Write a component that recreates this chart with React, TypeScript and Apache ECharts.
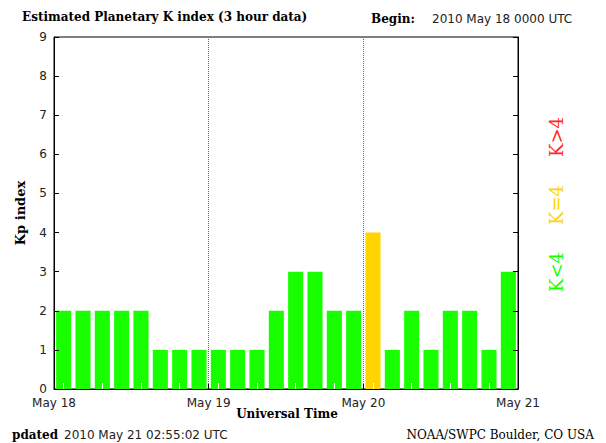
import React, { useEffect, useRef } from "react";
import * as echarts from "echarts";

const kpValues = [2, 2, 2, 2, 2, 1, 1, 1, 1, 1, 1, 2, 3, 3, 2, 2, 4, 1, 2, 1, 2, 2, 1, 3];
const slotLabels = kpValues.map((_, i) => `${i * 3}h`);
const dayLabels = ["May 18", "May 19", "May 20", "May 21"];
const yTicks = [0, 1, 2, 3, 4, 5, 6, 7, 8, 9];
const legendItems = [
  { text: "K>4", color: "#ff2a1a" },
  { text: "K=4", color: "#ffd400" },
  { text: "K<4", color: "#18ff00" },
];

const GREEN = "#18ff00";
const YELLOW = "#ffd400";
const RED = "#ff2a1a";
const SANS = "'DejaVu Sans', sans-serif";
const SERIF = "'DejaVu Serif', serif";

export default function App() {
  const ref = useRef<HTMLDivElement>(null);
  useEffect(() => {
    if (!ref.current) return;
    const chart = echarts.init(ref.current, null, { renderer: "svg" });
    const barData = kpValues.map((v) => ({
      value: v,
      itemStyle: { color: v < 4 ? GREEN : v === 4 ? YELLOW : RED },
    }));
    chart.setOption({
      animation: false,
      backgroundColor: "#ffffff",
      grid: {
        left: 54,
        right: 88,
        top: 37,
        bottom: 54,
        show: true,
        borderColor: "#000",
        borderWidth: 1,
      },
      xAxis: [
        {
          type: "value",
          min: 0,
          max: 72,
          interval: 24,
          position: "bottom",
          axisLine: { show: true, lineStyle: { color: "#000", width: 1 } },
          axisTick: { show: true, inside: true, length: 5, lineStyle: { color: "#000" } },
          axisLabel: {
            color: "#222",
            fontFamily: SANS,
            fontSize: 12,
            margin: 8,
            formatter: (v: number) => dayLabels[Math.round(v / 24)] ?? "",
          },
          splitLine: { show: true, lineStyle: { color: "#666", type: "dotted", width: 1 } },
          z: 5,
        },
        {
          type: "category",
          data: slotLabels,
          position: "bottom",
          boundaryGap: true,
          axisLine: { show: false },
          axisLabel: { show: false },
          axisTick: {
            show: true,
            inside: true,
            alignWithLabel: true,
            length: 6,
            lineStyle: { color: "#ffffff", width: 1 },
          },
          splitLine: { show: false },
          z: 6,
        },
      ],
      yAxis: [
        {
          type: "value",
          min: 0,
          max: 9,
          interval: 1,
          axisLine: { show: true, lineStyle: { color: "#000" } },
          axisTick: { show: true, inside: true, length: 5, lineStyle: { color: "#000" } },
          axisLabel: {
            color: "#222",
            fontFamily: SANS,
            fontSize: 12,
            margin: 7,
            formatter: (v: number) => (yTicks.includes(v) ? String(v) : ""),
          },
          splitLine: { show: false },
          z: 5,
        },
        {
          type: "value",
          min: 0,
          max: 9,
          interval: 1,
          position: "right",
          axisLine: { show: true, lineStyle: { color: "#000" } },
          axisTick: { show: true, inside: true, length: 5, lineStyle: { color: "#000" } },
          axisLabel: { show: false },
          splitLine: { show: false },
          z: 5,
        },
      ],
      series: [
        {
          type: "bar",
          xAxisIndex: 1,
          yAxisIndex: 0,
          data: barData,
          barWidth: "78%",
          itemStyle: { borderColor: "#8dff80", borderWidth: 0 },
        },
      ],
      graphic: [
        {
          type: "text",
          left: 22,
          top: 11,
          style: {
            text: "Estimated Planetary K index (3 hour data)",
            font: `bold 12px ${SERIF}`,
            fill: "#000",
          },
        },
        {
          type: "text",
          left: 371,
          top: 13,
          style: { text: "Begin:", font: `bold 12px ${SERIF}`, fill: "#000" },
        },
        {
          type: "text",
          left: 432,
          top: 13,
          style: { text: "2010 May 18 0000 UTC", font: `12px ${SANS}`, fill: "#222" },
        },
        {
          type: "text",
          x: 20,
          y: 213,
          rotation: Math.PI / 2,
          style: {
            text: "Kp index",
            font: `bold 13px ${SERIF}`,
            fill: "#000",
            align: "center",
            verticalAlign: "middle",
          },
        },
        {
          type: "text",
          x: 287,
          y: 414,
          style: {
            text: "Universal Time",
            font: `bold 12px ${SERIF}`,
            fill: "#000",
            align: "center",
            verticalAlign: "middle",
          },
        },
        {
          type: "text",
          left: 12,
          top: 429,
          style: { text: "pdated", font: `bold 12px ${SERIF}`, fill: "#000" },
        },
        {
          type: "text",
          left: 64,
          top: 429,
          style: { text: "2010 May 21 02:55:02 UTC", font: `12px ${SANS}`, fill: "#222" },
        },
        {
          type: "text",
          right: 12,
          top: 429,
          style: { text: "NOAA/SWPC Boulder, CO USA", font: `12px ${SERIF}`, fill: "#000" },
        },
        ...legendItems.map((it, i) => ({
          type: "text",
          x: 556,
          y: [137, 205, 272][i],
          rotation: Math.PI / 2,
          style: {
            text: it.text,
            font: `18px ${SERIF}`,
            fill: it.color,
            align: "center",
            verticalAlign: "middle",
          },
        })),
      ],
    });
    return () => chart.dispose();
  }, []);
  return <div ref={ref} style={{ width: 606, height: 443, position: "absolute", left: 0, top: 0 }} />;
}
